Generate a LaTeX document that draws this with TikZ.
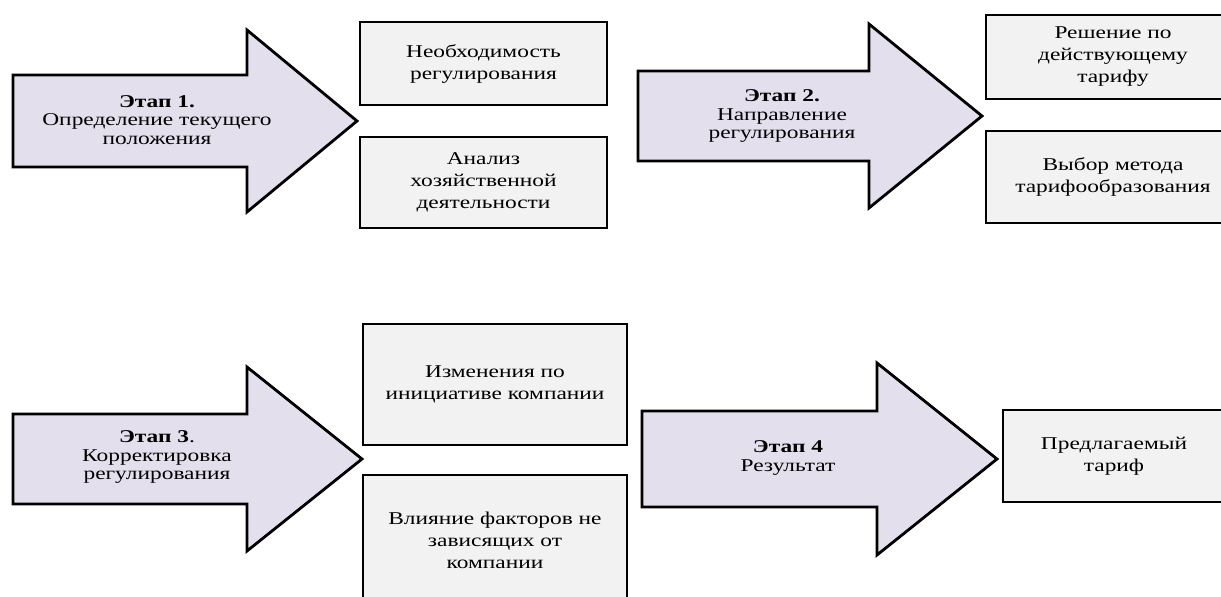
\documentclass[tikz,border=0pt]{standalone}
\usepackage{fontspec}
\setmainfont[FakeStretch=1.3]{Liberation Serif}

\definecolor{arrowfill}{HTML}{E4DFEC}
\definecolor{boxfill}{HTML}{F2F2F2}

\begin{document}
\begin{tikzpicture}[x = 1pt, y = -1pt,
    stagearrow/.style = {draw, line width = 2.8pt, fill = arrowfill, line join = miter},
    stagetext/.style = {align = center, inner sep = 0pt, font = \fontsize{18}{18.5}\selectfont},
    itembox/.style = {draw, line width = 2.8pt, fill = boxfill, align = center, inner sep = 2pt,
        font = \fontsize{18}{22}\selectfont}]
    \useasboundingbox (0,0) rectangle (1221,597);
    \clip (0,0) rectangle (1221,597);

    % stage arrows
    \draw [stagearrow] (13,75) -- (247,75) -- (247,30) -- (357,121) -- (247,212) -- (247,167) -- (13,167) -- cycle;
    \draw [stagearrow] (638,71) -- (869,71) -- (869,24) -- (982,116) -- (869,208) -- (869,161) -- (638,161) -- cycle;
    \draw [stagearrow] (13,414) -- (247,414) -- (247,367) -- (362,459) -- (247,551) -- (247,504) -- (13,504) -- cycle;
    \draw [stagearrow] (642,411) -- (877,411) -- (877,363) -- (997,459) -- (877,555) -- (877,507) -- (642,507) -- cycle;

    \node [stagetext] (Stage1) at (157,120) {\textbf{Этап 1.}\\Определение текущего\\положения};
    \node [stagetext] (Stage2) at (782,116) {\textbf{Этап 2.}\\Направление\\регулирования};
    \node [stagetext] (Stage3) at (157,457) {\textbf{Этап 3}.\\Корректировка\\регулирования};
    \node [stagetext] (Stage4) at (788,458) {\textbf{Этап 4}\\Результат};

    % boxes
    \node [itembox, minimum width = 247, minimum height = 83] (Need) at (483.5,63.5) {Необходимость\\регулирования};
    \node [itembox, minimum width = 247, minimum height = 91] (Analysis) at (483.5,182.5) {Анализ\\хозяйственной\\деятельности};
    \node [itembox, minimum width = 254, minimum height = 84] (Current) at (1113,57) {Решение по\\действующему\\тарифу};
    \node [itembox, minimum width = 254, minimum height = 92] (Method) at (1113,177) {Выбор метода\\тарифообразования};
    \node [itembox, minimum width = 264, minimum height = 121] (Initiative) at (495,384.5) {Изменения по\\инициативе компании};
    \node [itembox, minimum width = 264, minimum height = 130] (Factors) at (495,540) {Влияние факторов не\\зависящих от\\компании};
    \node [itembox, minimum width = 222, minimum height = 92] (Tariff) at (1114,456) {Предлагаемый\\тариф};
\end{tikzpicture}
\end{document}
